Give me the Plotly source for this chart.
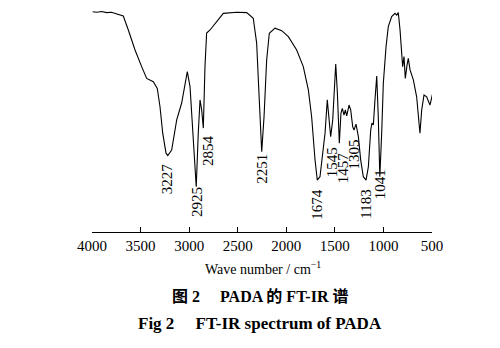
import numpy as np
import plotly.graph_objects as go

# Wavenumber (cm^-1) and transmittance (%)
wavenumber = [3993, 3950, 3900, 3850, 3800, 3746, 3678, 3626, 3557, 3489, 3437, 3369, 3328, 3300,
              3272, 3238, 3220, 3180, 3128, 3077, 3032, 3019, 2991, 2957, 2927, 2906, 2888, 2871,
              2854, 2837, 2820, 2785, 2717, 2648, 2510, 2407, 2340, 2305, 2278, 2253, 2229, 2202,
              2175, 2116, 2047, 1979, 1893, 1825, 1773, 1739, 1704, 1681, 1653, 1619, 1601, 1578,
              1557, 1543, 1522, 1505, 1491, 1474, 1454, 1437, 1423, 1406, 1392, 1378, 1354, 1337,
              1316, 1303, 1282, 1258, 1234, 1207, 1179, 1155, 1131, 1118, 1104, 1087, 1069, 1053,
              1037, 1018, 1001, 973, 950, 915, 881, 863, 847, 829, 812, 802, 788, 775, 757, 744,
              726, 692, 658, 641, 624, 606, 582, 555, 521, 493]
transmittance = [99.2, 99.0, 99.3, 98.8, 99.0, 98.2, 97.3, 91.0, 82.0, 74.5, 69.2, 67.7, 64.7, 56.4,
                 44.5, 35.5, 34.4, 36.9, 50.5, 58.1, 70.0, 72.2, 65.5, 41.4, 20.4, 44.6, 59.5, 55.0,
                 46.8, 74.5, 89.6, 91.0, 94.7, 98.5, 99.0, 98.8, 96.3, 85.1, 59.5, 36.2, 51.9, 77.5,
                 89.5, 91.8, 90.7, 88.0, 82.0, 74.5, 64.0, 51.9, 32.4, 23.4, 24.9, 36.9, 44.6, 59.5,
                 49.1, 42.9, 50.5, 67.0, 75.7, 62.6, 40.0, 53.6, 55.7, 52.7, 55.0, 52.3, 57.2, 55.0,
                 47.4, 45.9, 48.6, 42.9, 32.4, 24.9, 23.4, 29.4, 45.9, 49.1, 48.2, 59.5, 70.3, 51.9,
                 24.9, 44.5, 67.0, 83.5, 92.5, 97.0, 98.5, 97.7, 98.8, 91.0, 82.0, 74.5, 79.0, 69.2,
                 75.2, 78.2, 73.0, 68.5, 60.9, 51.9, 44.5, 55.0, 61.7, 60.9, 57.2, 62.5]

peak_labels = [3227, 2925, 2854, 2251, 1674, 1545, 1457, 1305, 1183, 1041]

x_ticks = [4000, 3500, 3000, 2500, 2000, 1500, 1000, 500]

x_title = "Wave number / cm<sup>−1</sup>"
caption_cn = "图 2\u2003 PADA 的 FT-IR 谱"
caption_en = "Fig 2\u2003 FT-IR spectrum of PADA"

# label placement tweaks (pixels): gap below the peak, horizontal shift
label_gap = [7, 3, 5, 3, 7, 10, 15, 8, 8, 5]
label_dx = [0, 0, 4, 0, -1, 1, 4, 0, 0, 0]

serif = "Liberation Serif, Times New Roman, serif"

fig = go.Figure()
fig.add_trace(go.Scatter(x=wavenumber, y=transmittance, mode="lines",
                         line=dict(color="black", width=1.1), hoverinfo="skip",
                         showlegend=False))

wn_sorted = np.array(wavenumber[::-1])
tr_sorted = np.array(transmittance[::-1])
for lab, gap, dx in zip(peak_labels, label_gap, label_dx):
    yv = float(np.interp(lab, wn_sorted, tr_sorted))
    fig.add_annotation(x=lab, y=yv, xref="x", yref="y", text=str(lab), showarrow=False,
                       textangle=-90, yanchor="top", xanchor="center", yshift=-gap, xshift=dx,
                       font=dict(family=serif, size=15, color="black"))

fig.add_annotation(x=0.503, y=-0.162, xref="paper", yref="paper", text=x_title, showarrow=False,
                   xanchor="center", yanchor="middle",
                   font=dict(family=serif, size=14, color="black"))
fig.add_annotation(x=0.494, y=-0.288, xref="paper", yref="paper", text="<b>" + caption_cn + "</b>",
                   showarrow=False, xanchor="center", yanchor="middle",
                   font=dict(family="Liberation Serif, Noto Sans CJK SC, serif", size=16, color="black"))
fig.add_annotation(x=0.494, y=-0.414, xref="paper", yref="paper", text="<b>" + caption_en + "</b>",
                   showarrow=False, xanchor="center", yanchor="middle",
                   font=dict(family=serif, size=17, color="black"))

fig.update_xaxes(range=[4000, 500], tickvals=x_ticks, ticktext=[str(t) for t in x_ticks],
                 showline=True, linecolor="black", linewidth=1.3, ticks="inside", ticklen=5,
                 tickwidth=1.3, tickcolor="black", showgrid=False, zeroline=False,
                 tickfont=dict(family=serif, size=15, color="black"))
fig.update_yaxes(range=[0, 100], visible=False, showgrid=False, zeroline=False)

fig.update_layout(width=500, height=348, margin=dict(l=92, r=68, t=10, b=116),
                  paper_bgcolor="white", plot_bgcolor="white", showlegend=False)

fig.write_html("out.html")
